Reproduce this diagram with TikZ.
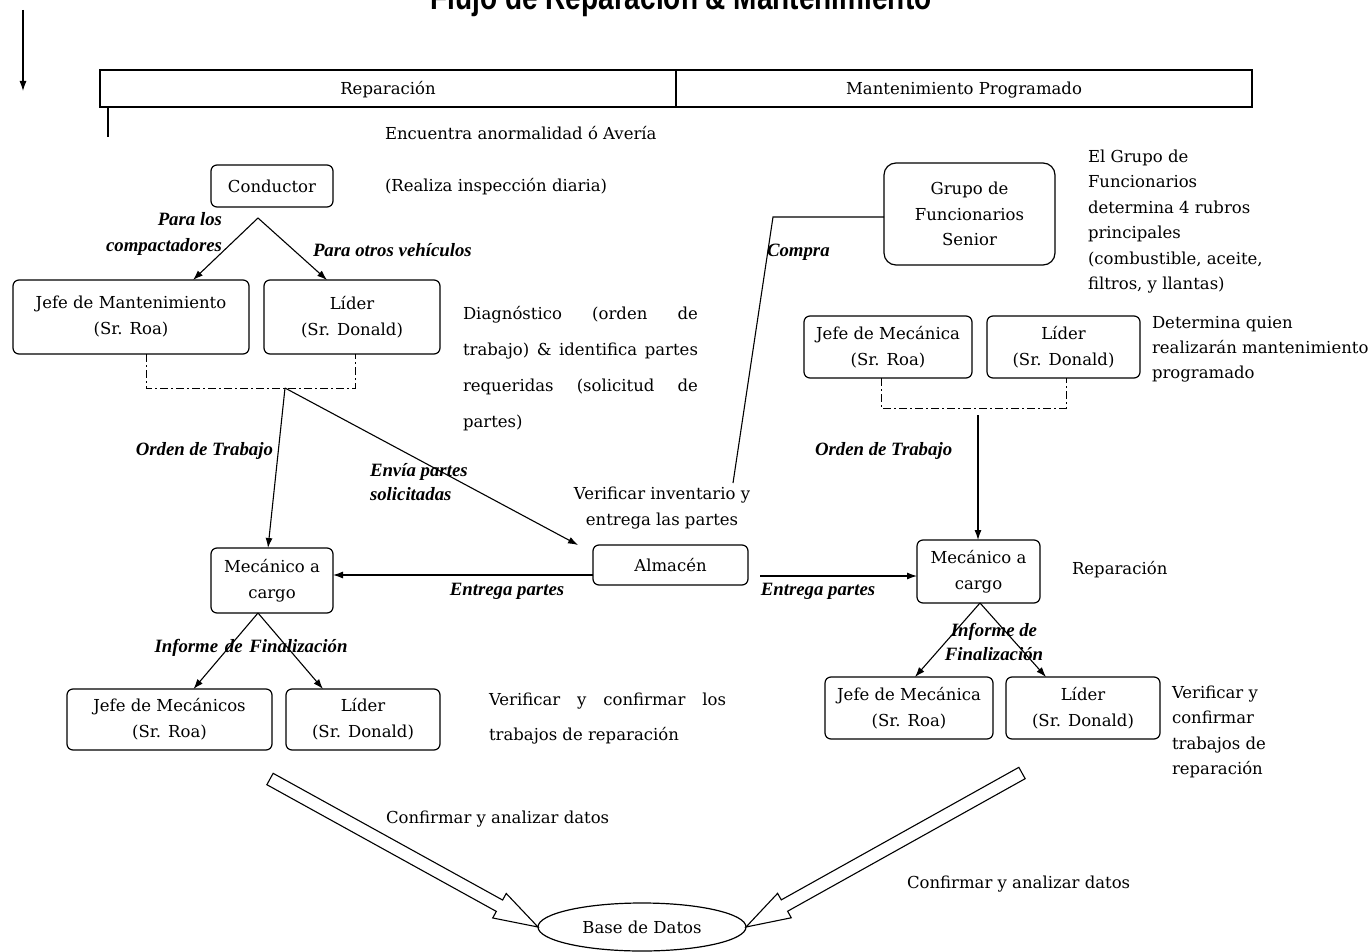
\documentclass[tikz,border=0pt]{standalone}
\usepackage{fontspec}
\setmainfont{DejaVu Serif}
\newfontfamily\lblfont{Liberation Serif}
\newfontfamily\titlefont[FakeStretch=0.8]{Liberation Sans}
\usetikzlibrary{arrows.meta,calc,shapes.geometric}

% hollow block arrow from #1 (tail) to #2 (tip)
\newcommand\hollowarrow[2]{%
  \draw[hollow] let \p1=(#1), \p2=(#2),
      \n1={atan2(\y2-\y1,\x2-\x1)}, \n2={veclen(\x2-\x1,\y2-\y1)} in
    ($(\p1)+(\n1+90:6.5pt)$)
    -- ($(\p1)+(\n1:{(\n2-44)*1pt})+(\n1+90:6.5pt)$)
    -- ($(\p1)+(\n1:{(\n2-44)*1pt})+(\n1+90:14pt)$)
    -- (\p2)
    -- ($(\p1)+(\n1:{(\n2-44)*1pt})+(\n1-90:14pt)$)
    -- ($(\p1)+(\n1:{(\n2-44)*1pt})+(\n1-90:6.5pt)$)
    -- ($(\p1)+(\n1-90:6.5pt)$) -- cycle;}

\tikzset{
  every node/.style={inner sep=0pt, outer sep=0pt},
  body/.style={font=\fontsize{16.5}{26}\selectfont},
  box/.style={draw, rounded corners=6pt, line width=1.2pt, align=center, body},
  lbl/.style={font=\lblfont\bfseries\itshape\fontsize{18.8}{24}\selectfont},
  conn/.style={line width=1.1pt, -{Latex[length=10pt,width=7pt]}},
  plain/.style={line width=1.1pt},
  bracket/.style={line width=1pt, dash pattern=on 8pt off 3pt on 2pt off 3pt},
  hollow/.style={line width=1.1pt, fill=white},
}

\begin{document}
\begin{tikzpicture}[x=1pt,y=-1pt]
\useasboundingbox[fill=white] (0,0) rectangle (1368,952);

% title and side arrow
\node[font=\titlefont\bfseries\fontsize{35}{38}\selectfont, anchor=base] (title) at (681,10) {Flujo de Reparación \& Mantenimiento};
\coordinate (arrTop) at (23,10);
\coordinate (arrBot) at (23,91);
\draw[conn] (arrTop) -- (arrBot);

% header bar
\node[draw, line width=1.3pt, minimum width=576pt, minimum height=37pt] (hdrL) at (388,88.5) {};
\node[draw, line width=1.3pt, minimum width=576pt, minimum height=37pt] (hdrR) at (964,88.5) {};
\node[body, anchor=base] (hdrLtxt) at (hdrL.center |- 0,95) {Reparación};
\node[body, anchor=base] (hdrRtxt) at (hdrR.center |- 0,95) {Mantenimiento Programado};
\draw[plain] ([xshift=8pt]hdrL.south west) -- ++(0,30);

% ---------- Reparación ----------
\node[body, anchor=base west] (enc) at (385,140) {Encuentra anormalidad ó Avería};
\node[body, anchor=base west] (insp) at (385,192) {(Realiza inspección diaria)};

\node[box, minimum width=122pt, minimum height=42pt] (cond) at (272,186) {Conductor};
\coordinate (cA) at (258,218);
\node[box, minimum width=236pt, minimum height=74pt] (jefeM) at (131,317) {Jefe de Mantenimiento\\(Sr. Roa)};
\node[box, minimum width=176pt, minimum height=74pt] (liderL) at (352,317) {Líder\\(Sr. Donald)};
\draw[conn] (cA) -- ([xshift=-56pt]jefeM.north east);
\draw[conn] (cA) -- ([xshift=-25pt]liderL.north);
\node[lbl, font=\lblfont\bfseries\itshape\fontsize{18.8}{26}\selectfont, align=right, anchor=north east] (lblComp) at (222,212) {Para los\\compactadores};
\node[lbl, anchor=base west] (lblOtros) at (313,257) {Para otros vehículos};

\node[anchor=north west, align=left, font=\fontsize{16.5}{36}\selectfont] (diag) at (463,306)
  {\makebox[235pt][s]{Diagnóstico (orden de}\\\makebox[235pt][s]{trabajo) \& identifica partes}\\\makebox[235pt][s]{requeridas (solicitud de}\\partes)};

\draw[bracket] ([xshift=15pt]jefeM.south) -- ++(0,34) -| ([xshift=3pt]liderL.south);
\coordinate (jL) at (285,388);

\node[box, minimum width=122pt, minimum height=65pt] (mecL) at (272,580.5) {Mecánico a\\cargo};
\node[box, minimum width=155pt, minimum height=40pt] (alm) at (670.5,565) {Almacén};
\draw[conn] (jL) -- ([xshift=-4pt]mecL.north);
\draw[conn] (jL) -- ([xshift=-15pt]alm.north west);
\node[lbl, anchor=base east] (lblOT) at (273,455) {Orden de Trabajo};
\node[lbl, align=left, anchor=north west] (lblEnv) at (370,463) {Envía partes\\solicitadas};
\node[body, align=center, anchor=north] (verInv) at (662,487) {Verificar inventario y\\entrega las partes};

\draw[conn] ([yshift=-10pt]alm.west) -- ([yshift=-10pt]alm.west -| mecL.east);
\node[lbl, anchor=base] (lblEP1) at (507,595) {Entrega partes};

\node[box, minimum width=205pt, minimum height=61pt] (jefeMec) at (169.5,719.5) {Jefe de Mecánicos\\(Sr. Roa)};
\node[box, minimum width=154pt, minimum height=61pt] (liderL2) at (363,719.5) {Líder\\(Sr. Donald)};
\draw[conn] ([xshift=-14pt]mecL.south) -- ([xshift=24pt]jefeMec.north);
\draw[conn] ([xshift=-14pt]mecL.south) -- ([xshift=-40pt]liderL2.north);
\node[lbl, anchor=base] (lblInf1) at (251,652) {\makebox[193pt][s]{Informe de Finalización}};
\node[anchor=north west, align=left, font=\fontsize{16.5}{35}\selectfont] (verTxt1) at (489,693)
  {\makebox[237pt][s]{Verificar y confirmar los}\\trabajos de reparación};

% ---------- Mantenimiento Programado ----------
\node[box, rounded corners=12pt, minimum width=171pt, minimum height=102pt, font=\fontsize{16.5}{25.5}\selectfont] (grupo) at (969.5,214) {Grupo de\\Funcionarios\\Senior};
\node[anchor=north west, align=left, font=\fontsize{16.5}{25.4}\selectfont] (grpTxt) at (1088,150)
  {El Grupo de\\Funcionarios\\determina 4 rubros\\principales\\(combustible, aceite,\\filtros, y llantas)};
\coordinate (cmpEnd) at (733,483);
\draw[plain] ([yshift=-3pt]grupo.west) -- ++(-111,0) -- (cmpEnd);
\node[lbl, anchor=base west] (lblCompra) at (767,257) {Compra};

\node[box, minimum width=168pt, minimum height=62pt] (jefeR) at (888,347) {Jefe de Mecánica\\(Sr. Roa)};
\node[box, minimum width=153pt, minimum height=62pt] (liderR) at (1063.5,347) {Líder\\(Sr. Donald)};
\node[anchor=north west, align=left, font=\fontsize{16.5}{25}\selectfont] (detTxt) at (1152,316)
  {Determina quien\\realizarán mantenimiento\\programado};
\draw[bracket] ([xshift=-7pt]jefeR.south) -- ++(0,30) -| ([xshift=2.5pt]liderR.south);
\coordinate (oR) at (978,415);

\node[box, minimum width=123pt, minimum height=63pt] (mecR) at (978.5,571.5) {Mecánico a\\cargo};
\draw[conn] (oR) -- (oR |- mecR.north);
\node[lbl, anchor=base west] (lblOT2) at (815,455) {Orden de Trabajo};
\coordinate (epR) at (760,576);
\draw[conn] (epR) -- (epR -| mecR.west);
\node[lbl, anchor=base] (lblEP2) at (818,595) {Entrega partes};
\node[body, anchor=base west] (repTxt) at (1072,574) {Reparación};

\node[box, minimum width=168pt, minimum height=62pt] (jefeR2) at (909,708) {Jefe de Mecánica\\(Sr. Roa)};
\node[box, minimum width=154pt, minimum height=62pt] (liderR2) at (1083,708) {Líder\\(Sr. Donald)};
\draw[conn] ([xshift=1.5pt]mecR.south) -- ([xshift=6pt]jefeR2.north);
\draw[conn] ([xshift=1.5pt]mecR.south) -- ([xshift=-37pt]liderR2.north);
\node[lbl, align=center, anchor=north] (lblInf2) at (994,623) {Informe de\\Finalización};
\node[anchor=north west, align=left, font=\fontsize{16.5}{25.3}\selectfont] (verTxt2) at (1172,686)
  {Verificar y\\confirmar\\trabajos de\\reparación};

% ---------- database ----------
\node[draw, ellipse, line width=1.2pt, minimum width=208pt, minimum height=48pt, body] (db) at (642,927) {Base de Datos};
\coordinate (haL) at (270,779);
\coordinate (haR) at (1022,773);
\hollowarrow{haL}{db.west}
\hollowarrow{haR}{db.east}
\node[body, anchor=base west] (conf1) at (386,823) {Confirmar y analizar datos};
\node[body, anchor=base west] (conf2) at (907,888) {Confirmar y analizar datos};
\end{tikzpicture}
\end{document}
